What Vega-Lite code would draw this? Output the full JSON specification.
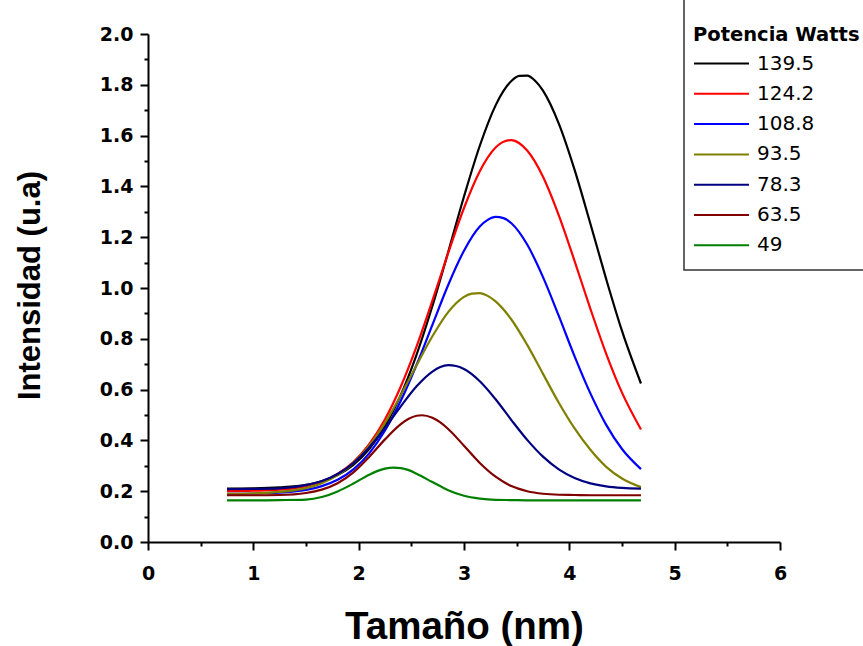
{
"$schema": "https://vega.github.io/schema/vega-lite/v6.json",
"width": 632, "height": 508,
"autosize": {"type": "none"},
"padding": {"left": 148, "top": 34, "right": 83, "bottom": 104},
"background": "white",
"config": {
  "view": {"stroke": null},
  "legend": {"strokeColor": "#333333", "strokeWidth": 1.5, "fillColor": "white", "padding": 9}
},
"data": {"values": [
{"p":"139.5","x":0.75,"y":0.210},{"p":"139.5","x":1.0,"y":0.211},{"p":"139.5","x":1.25,"y":0.215},{"p":"139.5","x":1.5,"y":0.225},{"p":"139.5","x":1.65,"y":0.239},{"p":"139.5","x":1.8,"y":0.264},{"p":"139.5","x":1.95,"y":0.304},{"p":"139.5","x":2.1,"y":0.366},{"p":"139.5","x":2.25,"y":0.456},{"p":"139.5","x":2.4,"y":0.579},{"p":"139.5","x":2.55,"y":0.738},{"p":"139.5","x":2.7,"y":0.929},{"p":"139.5","x":2.85,"y":1.142},{"p":"139.5","x":3.0,"y":1.360},{"p":"139.5","x":3.15,"y":1.560},{"p":"139.5","x":3.3,"y":1.719},{"p":"139.5","x":3.375,"y":1.776},{"p":"139.5","x":3.45,"y":1.815},{"p":"139.5","x":3.525,"y":1.835},{"p":"139.5","x":3.6,"y":1.836},{"p":"139.5","x":3.675,"y":1.816},{"p":"139.5","x":3.75,"y":1.777},{"p":"139.5","x":3.9,"y":1.647},{"p":"139.5","x":4.05,"y":1.465},{"p":"139.5","x":4.2,"y":1.253},{"p":"139.5","x":4.35,"y":1.035},{"p":"139.5","x":4.5,"y":0.831},{"p":"139.5","x":4.68,"y":0.624},
{"p":"124.2","x":0.75,"y":0.200},{"p":"124.2","x":1.0,"y":0.202},{"p":"124.2","x":1.25,"y":0.206},{"p":"124.2","x":1.5,"y":0.220},{"p":"124.2","x":1.65,"y":0.238},{"p":"124.2","x":1.8,"y":0.268},{"p":"124.2","x":1.95,"y":0.315},{"p":"124.2","x":2.1,"y":0.385},{"p":"124.2","x":2.25,"y":0.483},{"p":"124.2","x":2.4,"y":0.612},{"p":"124.2","x":2.55,"y":0.770},{"p":"124.2","x":2.7,"y":0.950},{"p":"124.2","x":2.85,"y":1.138},{"p":"124.2","x":3.0,"y":1.315},{"p":"124.2","x":3.15,"y":1.460},{"p":"124.2","x":3.3,"y":1.553},{"p":"124.2","x":3.375,"y":1.576},{"p":"124.2","x":3.45,"y":1.582},{"p":"124.2","x":3.525,"y":1.570},{"p":"124.2","x":3.6,"y":1.541},{"p":"124.2","x":3.75,"y":1.438},{"p":"124.2","x":3.9,"y":1.286},{"p":"124.2","x":4.05,"y":1.106},{"p":"124.2","x":4.2,"y":0.918},{"p":"124.2","x":4.35,"y":0.741},{"p":"124.2","x":4.5,"y":0.588},{"p":"124.2","x":4.68,"y":0.443},
{"p":"108.8","x":0.75,"y":0.190},{"p":"108.8","x":1.0,"y":0.191},{"p":"108.8","x":1.25,"y":0.194},{"p":"108.8","x":1.5,"y":0.205},{"p":"108.8","x":1.65,"y":0.220},{"p":"108.8","x":1.8,"y":0.245},{"p":"108.8","x":1.95,"y":0.286},{"p":"108.8","x":2.1,"y":0.349},{"p":"108.8","x":2.25,"y":0.439},{"p":"108.8","x":2.4,"y":0.556},{"p":"108.8","x":2.55,"y":0.698},{"p":"108.8","x":2.7,"y":0.855},{"p":"108.8","x":2.85,"y":1.012},{"p":"108.8","x":3.0,"y":1.147},{"p":"108.8","x":3.15,"y":1.242},{"p":"108.8","x":3.225,"y":1.268},{"p":"108.8","x":3.3,"y":1.280},{"p":"108.8","x":3.375,"y":1.275},{"p":"108.8","x":3.45,"y":1.255},{"p":"108.8","x":3.6,"y":1.171},{"p":"108.8","x":3.75,"y":1.043},{"p":"108.8","x":3.9,"y":0.890},{"p":"108.8","x":4.05,"y":0.731},{"p":"108.8","x":4.2,"y":0.585},{"p":"108.8","x":4.35,"y":0.461},{"p":"108.8","x":4.5,"y":0.366},{"p":"108.8","x":4.68,"y":0.287},
{"p":"93.5","x":0.75,"y":0.190},{"p":"93.5","x":1.0,"y":0.192},{"p":"93.5","x":1.25,"y":0.197},{"p":"93.5","x":1.5,"y":0.212},{"p":"93.5","x":1.65,"y":0.231},{"p":"93.5","x":1.8,"y":0.263},{"p":"93.5","x":1.95,"y":0.311},{"p":"93.5","x":2.1,"y":0.379},{"p":"93.5","x":2.25,"y":0.469},{"p":"93.5","x":2.4,"y":0.578},{"p":"93.5","x":2.55,"y":0.696},{"p":"93.5","x":2.7,"y":0.810},{"p":"93.5","x":2.85,"y":0.905},{"p":"93.5","x":2.925,"y":0.940},{"p":"93.5","x":3.0,"y":0.965},{"p":"93.5","x":3.075,"y":0.978},{"p":"93.5","x":3.15,"y":0.980},{"p":"93.5","x":3.225,"y":0.969},{"p":"93.5","x":3.3,"y":0.947},{"p":"93.5","x":3.45,"y":0.876},{"p":"93.5","x":3.6,"y":0.776},{"p":"93.5","x":3.75,"y":0.662},{"p":"93.5","x":3.9,"y":0.548},{"p":"93.5","x":4.05,"y":0.447},{"p":"93.5","x":4.2,"y":0.363},{"p":"93.5","x":4.35,"y":0.296},{"p":"93.5","x":4.5,"y":0.250},{"p":"93.5","x":4.68,"y":0.216},
{"p":"78.3","x":0.75,"y":0.208},{"p":"78.3","x":1.0,"y":0.209},{"p":"78.3","x":1.25,"y":0.211},{"p":"78.3","x":1.5,"y":0.224},{"p":"78.3","x":1.65,"y":0.240},{"p":"78.3","x":1.8,"y":0.268},{"p":"78.3","x":1.95,"y":0.311},{"p":"78.3","x":2.1,"y":0.372},{"p":"78.3","x":2.25,"y":0.449},{"p":"78.3","x":2.4,"y":0.534},{"p":"78.3","x":2.55,"y":0.613},{"p":"78.3","x":2.7,"y":0.671},{"p":"78.3","x":2.775,"y":0.689},{"p":"78.3","x":2.85,"y":0.696},{"p":"78.3","x":2.925,"y":0.693},{"p":"78.3","x":3.0,"y":0.681},{"p":"78.3","x":3.15,"y":0.633},{"p":"78.3","x":3.3,"y":0.562},{"p":"78.3","x":3.45,"y":0.480},{"p":"78.3","x":3.6,"y":0.402},{"p":"78.3","x":3.75,"y":0.336},{"p":"78.3","x":3.9,"y":0.286},{"p":"78.3","x":4.05,"y":0.252},{"p":"78.3","x":4.2,"y":0.231},{"p":"78.3","x":4.35,"y":0.219},{"p":"78.3","x":4.5,"y":0.213},{"p":"78.3","x":4.68,"y":0.210},
{"p":"63.5","x":0.75,"y":0.184},{"p":"63.5","x":1.0,"y":0.184},{"p":"63.5","x":1.25,"y":0.185},{"p":"63.5","x":1.5,"y":0.193},{"p":"63.5","x":1.65,"y":0.206},{"p":"63.5","x":1.8,"y":0.231},{"p":"63.5","x":1.95,"y":0.274},{"p":"63.5","x":2.1,"y":0.335},{"p":"63.5","x":2.25,"y":0.404},{"p":"63.5","x":2.4,"y":0.464},{"p":"63.5","x":2.475,"y":0.485},{"p":"63.5","x":2.55,"y":0.497},{"p":"63.5","x":2.6,"y":0.499},{"p":"63.5","x":2.7,"y":0.489},{"p":"63.5","x":2.775,"y":0.471},{"p":"63.5","x":2.85,"y":0.445},{"p":"63.5","x":3.0,"y":0.379},{"p":"63.5","x":3.15,"y":0.311},{"p":"63.5","x":3.3,"y":0.257},{"p":"63.5","x":3.45,"y":0.220},{"p":"63.5","x":3.6,"y":0.200},{"p":"63.5","x":3.75,"y":0.190},{"p":"63.5","x":3.9,"y":0.186},{"p":"63.5","x":4.05,"y":0.185},{"p":"63.5","x":4.2,"y":0.184},{"p":"63.5","x":4.35,"y":0.184},{"p":"63.5","x":4.5,"y":0.184},{"p":"63.5","x":4.68,"y":0.184},
{"p":"49","x":0.75,"y":0.164},{"p":"49","x":1.0,"y":0.164},{"p":"49","x":1.25,"y":0.165},{"p":"49","x":1.5,"y":0.167},{"p":"49","x":1.65,"y":0.177},{"p":"49","x":1.8,"y":0.199},{"p":"49","x":1.95,"y":0.230},{"p":"49","x":2.1,"y":0.265},{"p":"49","x":2.175,"y":0.279},{"p":"49","x":2.25,"y":0.289},{"p":"49","x":2.33,"y":0.293},{"p":"49","x":2.4,"y":0.291},{"p":"49","x":2.475,"y":0.283},{"p":"49","x":2.55,"y":0.269},{"p":"49","x":2.7,"y":0.236},{"p":"49","x":2.85,"y":0.204},{"p":"49","x":3.0,"y":0.182},{"p":"49","x":3.15,"y":0.171},{"p":"49","x":3.3,"y":0.166},{"p":"49","x":3.45,"y":0.165},{"p":"49","x":3.6,"y":0.164},{"p":"49","x":3.75,"y":0.164},{"p":"49","x":3.9,"y":0.164},{"p":"49","x":4.05,"y":0.164},{"p":"49","x":4.2,"y":0.164},{"p":"49","x":4.35,"y":0.164},{"p":"49","x":4.5,"y":0.164},{"p":"49","x":4.68,"y":0.164}
]},
"mark": {"type": "line", "interpolate": "monotone", "strokeWidth": 2.2},
"encoding": {
  "x": {"field": "x", "type": "quantitative",
    "scale": {"domain": [0, 6], "nice": false, "zero": false},
    "axis": {"values": [0,0.5,1,1.5,2,2.5,3,3.5,4,4.5,5,5.5,6],
      "title": "Tamaño (nm)", "titleFont": "Liberation Sans", "titleFontSize": 38.5, "titleFontWeight": "bold", "titleColor": "black",
      "titleBaseline": "alphabetic", "titleAlign": "center", "titleX": 316, "titleY": 96,
      "labelExpr": "datum.value % 1 == 0 ? format(datum.value, 'd') : ''",
      "labelFont": "DejaVu Sans", "labelFontSize": 19, "labelFontWeight": "bold", "labelColor": "black",
      "labelPadding": 14, "labelOverlap": false, "labelFlush": false,
      "domainColor": "black", "domainWidth": 2, "tickColor": "black", "tickWidth": 2,
      "tickSize": {"condition": {"test": "datum.value % 1 == 0", "value": 8}, "value": 4},
      "grid": false}},
  "y": {"field": "y", "type": "quantitative",
    "scale": {"domain": [0, 2], "nice": false, "zero": false},
    "axis": {"values": [0,0.1,0.2,0.3,0.4,0.5,0.6,0.7,0.8,0.9,1.0,1.1,1.2,1.3,1.4,1.5,1.6,1.7,1.8,1.9,2.0],
      "title": "Intensidad (u.a)", "titleFont": "Liberation Sans", "titleFontSize": 31, "titleFontWeight": "bold", "titleColor": "black",
      "titleBaseline": "alphabetic", "titleAlign": "center", "titleAngle": 270, "titleX": -109, "titleY": 251,
      "labelExpr": "round(datum.value * 10) % 2 == 0 ? format(datum.value, '.1f') : ''",
      "labelFont": "DejaVu Sans", "labelFontSize": 19, "labelFontWeight": "bold", "labelColor": "black",
      "labelPadding": 7, "labelOverlap": false, "labelFlush": false,
      "domainColor": "black", "domainWidth": 2, "tickColor": "black", "tickWidth": 2,
      "tickSize": {"condition": {"test": "round(datum.value * 10) % 2 == 0", "value": 8}, "value": 4},
      "grid": false}},
  "color": {"field": "p", "type": "nominal",
    "sort": ["139.5","124.2","108.8","93.5","78.3","63.5","49"],
    "scale": {"domain": ["139.5","124.2","108.8","93.5","78.3","63.5","49"],
      "range": ["#000000","#ff0000","#0000ff","#808000","#000080","#800000","#008000"]},
    "legend": {"orient": "none", "legendX": 536, "legendY": -35,
      "title": ["", "Potencia Watts"], "titleFont": "DejaVu Sans", "titleFontSize": 19.5, "titleFontWeight": "bold", "titleColor": "black",
      "titleLineHeight": 18, "titlePadding": 3,
      "labelFont": "DejaVu Sans", "labelFontSize": 20, "labelColor": "black", "labelOffset": 7,
      "symbolType": "stroke", "symbolSize": 3025, "symbolStrokeWidth": 2,
      "clipHeight": 30, "rowPadding": 0.3}}
}
}
